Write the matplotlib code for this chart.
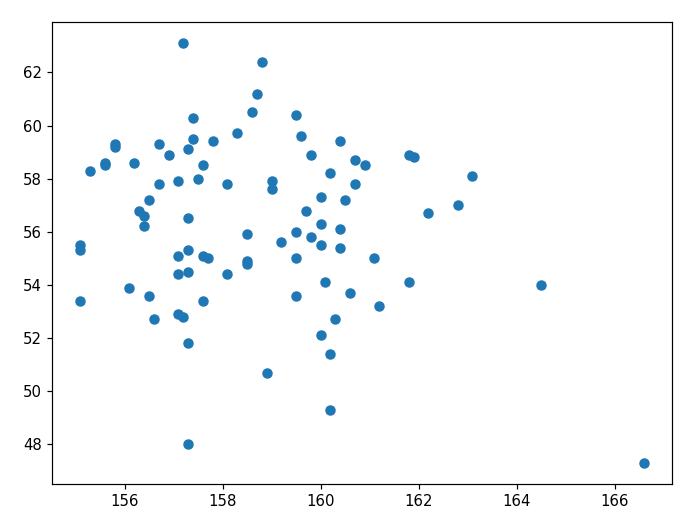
import matplotlib
matplotlib.use('Agg')
import matplotlib.pyplot as plt

# x / y values
x = [157.2, 158.8, 158.7, 158.6, 157.4, 159.5, 155.8, 155.8, 156.7, 157.4,
     157.3, 157.8, 158.3, 159.6, 156.9, 155.6, 155.6, 155.3, 156.2, 157.6,
     159.8, 160.4, 160.7, 160.9, 161.8, 161.9, 163.1, 157.5, 156.7, 157.1,
     158.1, 159.0, 159.0, 160.2, 160.7, 156.5, 160.0, 160.5, 162.8, 156.3,
     156.4, 156.4, 157.3, 159.7, 162.2, 158.5, 159.5, 160.0, 160.4, 159.2,
     159.8, 160.0, 160.4, 155.1, 155.1, 157.3, 157.1, 157.6, 157.7, 159.5,
     161.1, 158.5, 158.5, 157.1, 157.3, 158.1, 160.1, 161.8, 164.5, 156.1,
     156.5, 157.6, 159.5, 160.6, 155.1, 161.2, 157.1, 157.2, 156.6, 160.3,
     160.0, 157.3, 160.2, 158.9, 160.2, 157.3, 166.6]
y = [63.1, 62.4, 61.2, 60.5, 60.3, 60.4, 59.3, 59.2, 59.3, 59.5,
     59.1, 59.4, 59.7, 59.6, 58.9, 58.6, 58.5, 58.3, 58.6, 58.5,
     58.9, 59.4, 58.7, 58.5, 58.9, 58.8, 58.1, 58.0, 57.8, 57.9,
     57.8, 57.9, 57.6, 58.2, 57.8, 57.2, 57.3, 57.2, 57.0, 56.8,
     56.6, 56.2, 56.5, 56.8, 56.7, 55.9, 56.0, 56.3, 56.1, 55.6,
     55.8, 55.5, 55.4, 55.5, 55.3, 55.3, 55.1, 55.1, 55.0, 55.0,
     55.0, 54.9, 54.8, 54.4, 54.5, 54.4, 54.1, 54.1, 54.0, 53.9,
     53.6, 53.4, 53.6, 53.7, 53.4, 53.2, 52.9, 52.8, 52.7, 52.7,
     52.1, 51.8, 51.4, 50.7, 49.3, 48.0, 47.3]

fig, ax = plt.subplots(figsize=(6.4, 4.81), dpi=107.5)
ax.scatter(x, y)
fig.subplots_adjust(left=0.076, right=0.977, top=0.957, bottom=0.064)
fig.savefig('out.png')
